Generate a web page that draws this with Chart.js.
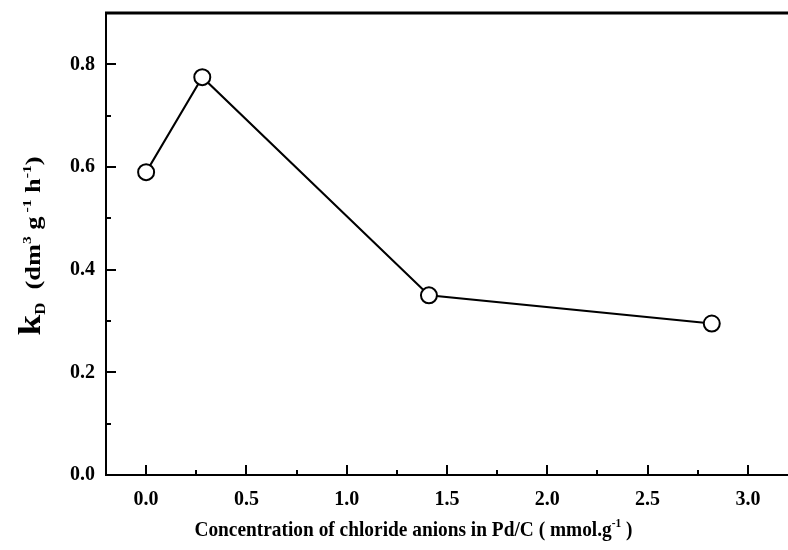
<!DOCTYPE html>
<html>
<head>
<meta charset="utf-8">
<script src="https://cdn.jsdelivr.net/npm/chart.js@4/dist/chart.umd.min.js"></script>
<style>
  html, body { margin: 0; padding: 0; background: #fff; }
  #wrap { width: 788px; height: 550px; }
</style>
</head>
<body>
<div id="wrap"><canvas id="c" width="788" height="550"></canvas></div>
<script>
// Chloride anion concentration in Pd/C (mmol/g) and deactivation constant kD
const concentration = [0, 0.28, 1.41, 2.82];
const kD = [0.59, 0.775, 0.35, 0.295];

const xTickValues = [0, 0.5, 1.0, 1.5, 2.0, 2.5, 3.0];
const xMinorValues = [0.25, 0.75, 1.25, 1.75, 2.25, 2.75];
const yTickValues = [0, 0.2, 0.4, 0.6, 0.8];
const yMinorValues = [0.1, 0.3, 0.5, 0.7];

const FONT = '"Liberation Serif", "Times New Roman", serif';

// Draws text built from pieces, each with its own size and vertical shift,
// centred on x = 0 with the main baseline at y = 0
function drawRich(ctx, parts) {
  const widths = parts.map(p => {
    ctx.font = 'bold ' + p.size + 'px ' + FONT;
    return ctx.measureText(p.t).width;
  });
  const total = widths.reduce((a, b) => a + b, 0);
  let x = -total / 2;
  ctx.textBaseline = 'alphabetic';
  ctx.textAlign = 'left';
  parts.forEach((p, i) => {
    ctx.font = 'bold ' + p.size + 'px ' + FONT;
    ctx.fillText(p.t, x, p.dy || 0);
    x += widths[i];
  });
  return total;
}

const framePlugin = {
  id: 'frame',
  afterDraw(chart) {
    const ctx = chart.ctx;
    const a = chart.chartArea;
    const xs = chart.scales.x, ys = chart.scales.y;
    ctx.save();
    ctx.strokeStyle = '#000';
    ctx.fillStyle = '#000';
    // axis lines
    ctx.lineWidth = 2;
    ctx.beginPath();
    ctx.moveTo(a.left, a.top - 1);
    ctx.lineTo(a.left, a.bottom);
    ctx.lineTo(a.right, a.bottom);
    ctx.stroke();
    ctx.lineWidth = 3;
    ctx.beginPath();
    ctx.moveTo(a.left - 1, a.top);
    ctx.lineTo(a.right, a.top);
    ctx.stroke();
    // inward ticks
    ctx.lineWidth = 2;
    ctx.beginPath();
    xTickValues.forEach(v => { const p = Math.round(xs.getPixelForValue(v)); ctx.moveTo(p, a.bottom); ctx.lineTo(p, a.bottom - 10); });
    xMinorValues.forEach(v => { const p = Math.round(xs.getPixelForValue(v)); ctx.moveTo(p, a.bottom); ctx.lineTo(p, a.bottom - 5); });
    yTickValues.forEach(v => { const p = Math.round(ys.getPixelForValue(v)); ctx.moveTo(a.left, p); ctx.lineTo(a.left + 10, p); });
    yMinorValues.forEach(v => { const p = Math.round(ys.getPixelForValue(v)); ctx.moveTo(a.left, p); ctx.lineTo(a.left + 5, p); });
    ctx.stroke();

    // x axis title
    ctx.save();
    ctx.translate(413.5, 536);
    ctx.scale(0.88, 1);
    drawRich(ctx, [
      { t: 'Concentration of chloride anions in Pd/C ( mmol.g', size: 22 },
      { t: '-1', size: 13, dy: -9 },
      { t: ' )', size: 22 }
    ]);
    ctx.restore();

    // y axis title
    ctx.save();
    ctx.translate(40, 246);
    ctx.rotate(-Math.PI / 2);
    ctx.scale(1.2, 1);
    drawRich(ctx, [
      { t: 'k', size: 31 },
      { t: 'D', size: 14, dy: 5 },
      { t: '  (dm', size: 22 },
      { t: '3', size: 13, dy: -9 },
      { t: ' g', size: 22 },
      { t: ' -1', size: 13, dy: -9 },
      { t: ' h', size: 22 },
      { t: '-1', size: 13, dy: -9 },
      { t: ')', size: 22 }
    ]);
    ctx.restore();
    ctx.restore();
  }
};

function noPad(s) {
  s.paddingTop = 0; s.paddingBottom = 0; s.paddingLeft = 0; s.paddingRight = 0;
}

new Chart(document.getElementById('c'), {
  type: 'scatter',
  data: {
    datasets: [{
      data: concentration.map((x, i) => ({ x: x, y: kD[i] })),
      showLine: true,
      borderColor: '#000',
      borderWidth: 2,
      pointRadius: 8,
      pointHoverRadius: 8,
      pointBorderWidth: 2,
      pointBackgroundColor: '#fff',
      pointBorderColor: '#000',
      clip: false
    }]
  },
  options: {
    responsive: false,
    animation: false,
    events: [],
    layout: { autoPadding: false, padding: { left: 0, top: 13, right: 0, bottom: 0 } },
    plugins: { legend: { display: false }, tooltip: { enabled: false } },
    scales: {
      x: {
        type: 'linear',
        min: -0.2, max: 3.2,
        grid: { display: false, drawTicks: false },
        border: { display: false },
        afterBuildTicks: s => { s.ticks = xTickValues.map(v => ({ value: v })); },
        afterFit: s => { s.height = 75; noPad(s); },
        ticks: {
          padding: 13,
          color: '#000',
          font: { family: FONT, size: 20, weight: 'bold' },
          callback: v => v.toFixed(1)
        }
      },
      y: {
        type: 'linear',
        min: 0, max: 0.9,
        grid: { display: false, drawTicks: false },
        border: { display: false },
        afterBuildTicks: s => { s.ticks = yTickValues.map(v => ({ value: v })); },
        afterFit: s => { s.width = 106; noPad(s); },
        ticks: {
          padding: 11,
          color: '#000',
          font: { family: FONT, size: 20, weight: 'bold' },
          callback: v => v.toFixed(1)
        }
      }
    }
  },
  plugins: [framePlugin]
});
</script>
</body>
</html>
